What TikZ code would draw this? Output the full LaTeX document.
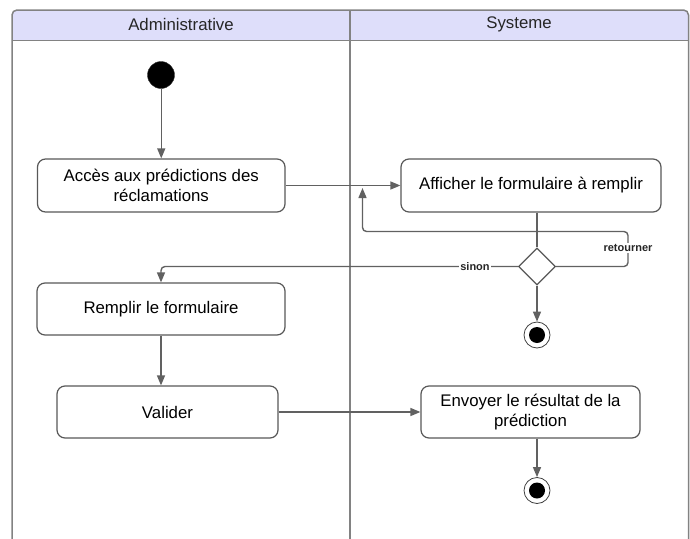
\documentclass[tikz,border=0pt]{standalone}
\usepackage{fontspec}
\setmainfont{Liberation Sans}
\usetikzlibrary{arrows.meta,shapes.geometric}
\definecolor{lanehead}{RGB}{222,222,250}
\definecolor{laneline}{RGB}{130,130,130}
\definecolor{flow}{RGB}{97,97,97}
\definecolor{boxline}{RGB}{88,88,88}

\begin{document}
\begin{tikzpicture}[x=1pt,y=-1pt,
  action/.style={draw=boxline, line width=1.2pt, rounded corners=8pt, fill=white,
    align=center, inner sep=0pt, font=\fontsize{16.8}{20}\selectfont},
  lanetitle/.style={font=\fontsize{16.8}{19}\selectfont, text=black!85},
  initialnode/.style={circle, fill=black, draw=black!80, minimum size=27pt, inner sep=0pt},
  finalnode/.style={circle, fill=white, draw=black!75, line width=0.8pt, minimum size=26pt,
    inner sep=0pt, path picture={\fill[black] (path picture bounding box.center) circle (8pt);}},
  decision/.style={diamond, draw=boxline, line width=1.2pt, fill=white, aspect=1,
    minimum width=37pt, minimum height=37pt, inner sep=0pt},
  flowplain/.style={draw=flow, line width=1.4pt},
  flowline/.style={flowplain, -{Triangle[length=10pt,width=8pt]}},
  guard/.style={fill=white, inner sep=1pt, font=\fontsize{11}{13}\selectfont\bfseries, text=black!85}
]
\useasboundingbox (0,0) rectangle (690,538);

% swimlane headers and frame
\fill[lanehead, rounded corners=5pt] (12,10) rectangle (688.5,50);
\fill[white] (12.8,40.5) rectangle (687.7,55);
\draw[laneline, line width=1.5pt, rounded corners=5pt] (12,540) -- (12,10) -- (688.5,10) -- (688.5,540);
\draw[laneline, line width=1.5pt] (12,40.5) -- (688.5,40.5);
\draw[laneline, line width=1.5pt] (350,10) -- (350,540);
\node[lanetitle] (laneA) at (181,24.5) {Administrative};
\node[lanetitle] (laneB) at (519,24.5) {Systeme};

% activity nodes
\node[initialnode] (start) at (161,75) {};
\node[action, minimum width=247.5pt, minimum height=53pt] (acces) at (161.25,185.5)
  {Accès aux prédictions des\\réclamations};
\node[action, minimum width=260pt, minimum height=53pt] (afficher) at (531,185.5)
  {Afficher le formulaire à remplir};
\node[decision] (choix) at (537,266.5) {};
\node[finalnode] (fin1) at (537,335) {};
\node[action, minimum width=248pt, minimum height=52pt] (remplir) at (161,309)
  {Remplir le formulaire};
\node[action, minimum width=221pt, minimum height=52pt] (valider) at (167.5,412)
  {Valider};
\node[action, minimum width=219pt, minimum height=52pt] (envoyer) at (530.5,412)
  {Envoyer le résultat de la\\prédiction};
\node[finalnode] (fin2) at (537,490.5) {};
\coordinate (retour) at (362.5,188);

% control flows
\draw[flowline] (start.south -| acces.north) -- (acces.north);
\draw[flowline] (acces.east) -- (afficher.west);
\draw[flowplain] (choix.north |- afficher.south) -- (choix.north);
\draw[flowline, rounded corners=4pt] (choix.east) -- (628,266.5) -- (628,231.5)
  -- (362.5,231.5) -- (retour);
\draw[flowline, rounded corners=4pt] (choix.west) -| (remplir.north);
\draw[flowline] (choix.south) -- (fin1.north);
\draw[flowline] (remplir.south) -- (remplir.south |- valider.north);
\draw[flowline] (valider.east) -- (envoyer.west);
\draw[flowline] (fin2.north |- envoyer.south) -- (fin2.north);

% guards
\node[guard] (gret) at (628,248) {retourner};
\node[guard] (gsin) at (475,266.5) {sinon};
\end{tikzpicture}
\end{document}
